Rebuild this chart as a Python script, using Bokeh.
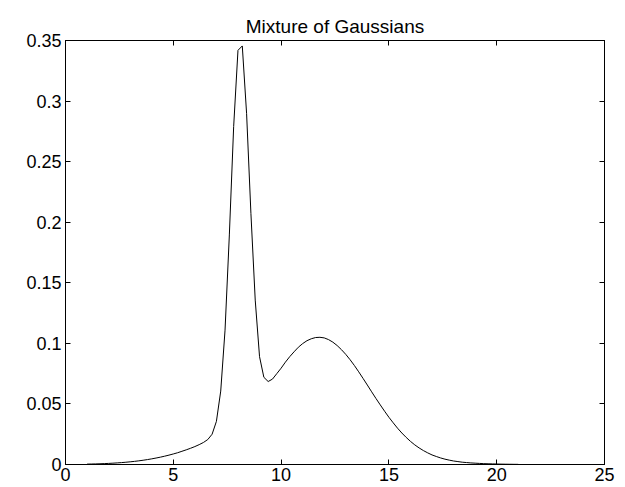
from bokeh.plotting import figure
from bokeh.models import Range1d, FixedTicker, LinearAxis, CustomLabelingPolicy
from bokeh.embed import file_html
from bokeh.resources import INLINE
import numpy as np

title_text = "Mixture of Gaussians"

# sample grid of the curve (step 0.2 from 1 to 21)
x_values = np.round(np.arange(1.0, 21.0001, 0.2), 1)

# density, one value per grid point
density = [
    0.00032, 0.00040, 0.00049, 0.00060, 0.00074, 0.00090, 0.00109, 0.00132,
    0.00157, 0.00187, 0.00221, 0.00259, 0.00302, 0.00351, 0.00405, 0.00466,
    0.00533, 0.00606, 0.00687, 0.00774, 0.0087,
    0.0097, 0.0109, 0.0121, 0.0134, 0.0148, 0.0164, 0.0182, 0.0206, 0.0250,
    0.0356, 0.0606, 0.1109, 0.1895, 0.2790, 0.3419, 0.3455, 0.2896, 0.2073,
    0.1357, 0.0890, 0.0720, 0.0685, 0.0705, 0.0750, 0.0795,
    0.0845, 0.0890, 0.0930, 0.0968, 0.0998, 0.1022, 0.1038, 0.1048, 0.1050,
    0.1045, 0.1031, 0.1010, 0.0982, 0.0948, 0.0909, 0.0865, 0.0817, 0.0765,
    0.0711, 0.0656, 0.0600, 0.0545, 0.0492, 0.0440, 0.0390,
    0.0344, 0.0300, 0.0260, 0.0224, 0.0191, 0.0162, 0.0137, 0.0115, 0.0096,
    0.0079, 0.0066, 0.0054, 0.0044, 0.0036, 0.0029, 0.0024, 0.0019, 0.0016,
    0.0013, 0.0011, 0.0009, 0.0007, 0.0006, 0.0005, 0.0004,
    0.0003, 0.00025, 0.0002, 0.00015, 0.00012,
]

x_ticks = [0, 5, 10, 15, 20, 25]
x_tick_labels = ["0", "5", "10", "15", "20", "25"]
y_ticks = [0, 0.05, 0.1, 0.15, 0.2, 0.25, 0.3, 0.35]
y_tick_labels = ["0", "0.05", "0.1", "0.15", "0.2", "0.25", "0.3", "0.35"]

FONT = "Liberation Sans"

p = figure(width=625, height=487, output_backend="svg", toolbar_location=None,
           x_range=Range1d(0, 25), y_range=Range1d(0, 0.35),
           min_border_left=65, min_border_right=21,
           min_border_top=40, min_border_bottom=23,
           background_fill_color="white", border_fill_color="white")

p.title.text = title_text
p.title.align = "center"
p.title.text_font = FONT
p.title.text_font_size = "19px"
p.title.text_font_style = "normal"
p.title.text_color = "black"
p.title.standoff = 8

p.line(x_values, density, line_color="black", line_width=1)

p.grid.visible = False
p.outline_line_color = "black"
p.outline_line_width = 1

def style_axis(ax, show_labels):
    ax.axis_line_color = "black"
    ax.axis_line_width = 1
    ax.major_tick_in = 5
    ax.major_tick_out = 0
    ax.minor_tick_line_color = None
    ax.major_tick_line_color = "black"
    ax.major_label_text_font = FONT
    ax.major_label_text_color = "black"
    if show_labels:
        ax.major_label_text_font_size = "18px"
    else:
        # mirrored tick marks only (box style), no labels drawn
        ax.major_label_text_font_size = "0px"
        ax.major_label_standoff = 0
        ax.major_label_policy = CustomLabelingPolicy(code="return []")

style_axis(p.xaxis[0], True)
style_axis(p.yaxis[0], True)
p.xaxis[0].ticker = FixedTicker(ticks=x_ticks)
p.yaxis[0].ticker = FixedTicker(ticks=y_ticks)
p.xaxis[0].major_label_overrides = dict(zip(x_ticks, x_tick_labels))
p.yaxis[0].major_label_overrides = dict(zip(y_ticks, y_tick_labels))
p.xaxis[0].major_label_standoff = 3
p.yaxis[0].major_label_standoff = 4

top_axis = LinearAxis(ticker=FixedTicker(ticks=x_ticks))
right_axis = LinearAxis(ticker=FixedTicker(ticks=y_ticks))
style_axis(top_axis, False)
style_axis(right_axis, False)
p.add_layout(top_axis, "above")
p.add_layout(right_axis, "right")

open("out.html", "w").write(file_html(p, INLINE))
